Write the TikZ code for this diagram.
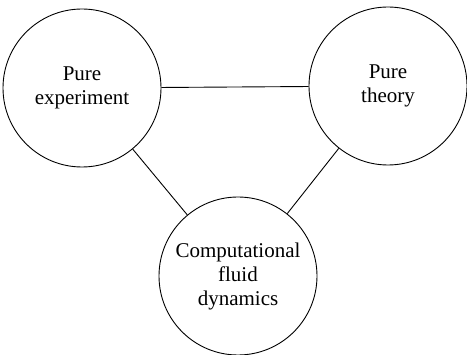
\documentclass[tikz,border=0pt]{standalone}
\usepackage{fontspec}
\setmainfont{Liberation Serif}

\begin{document}
\begin{tikzpicture}[x=1pt,y=1pt,
              every node/.style={draw, circle, line width=0.9pt, minimum size=158pt,
                inner sep=0pt, align=center, font=\fontsize{21}{24}\selectfont},
              link/.style={line width=0.9pt}
            ]
              \useasboundingbox (0,0) rectangle (467,-355);
              \node (exp) at (82,-88) {Pure\\experiment};
              \node (theo) at (388,-86) {Pure\\theory};
              \node (cfd) at (238,-276) {Computational\\fluid\\dynamics};
              \draw[link] (exp) -- (theo);
              \draw[link] (exp) -- (cfd);
              \draw[link] (theo) -- (cfd);
            \end{tikzpicture}
\end{document}
